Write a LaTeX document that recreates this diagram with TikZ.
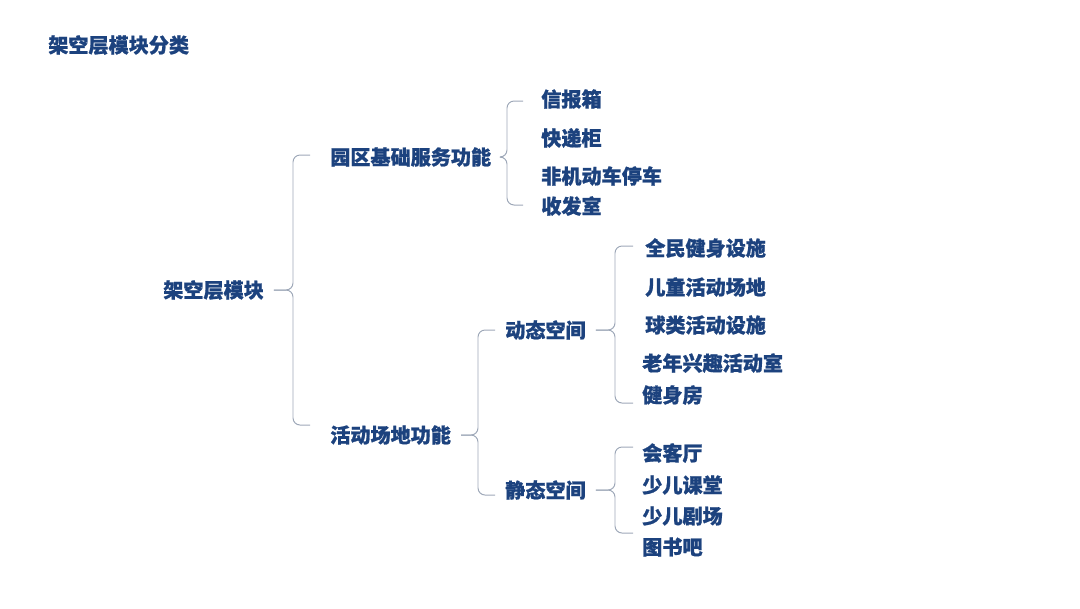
\documentclass[tikz,border=0pt]{standalone}
\usepackage{fontspec}
\setmainfont{Noto Sans CJK SC}[BoldFeatures={FakeBold=1}]
\usetikzlibrary{positioning, calc}
\definecolor{itemblue}{RGB}{28,66,126}
\definecolor{bracegray}{RGB}{158,168,184}
\tikzset{
  item/.style={
    anchor=west, inner sep=0pt,
    font=\bfseries\fontsize{14.3}{16}\selectfont, text=itemblue
  },
  braceline/.style={draw=bracegray, line width=0.7pt, rounded corners=5pt}
}
% parent, spine x, top y, bottom y, hook x
\newcommand{\branch}[5]{%
  \draw[braceline] ({#5},{#3}) -- ({#2},{#3}) -- ({#2},0 |- #1.east) -- ([xshift=7pt]#1.east);
  \draw[braceline] ({#5},{#4}) -- ({#2},{#4}) -- ({#2},0 |- #1.east) -- ([xshift=7pt]#1.east);
}

\begin{document}
\begin{tikzpicture}[x=0.025cm, y=-0.025cm]
\useasboundingbox (0,0) rectangle (1080,608);

% ── Title ───────────────────────────────────────────────────────────────────
\node[item] (title) at (48,45) {架空层模块分类};

% ── Levels 1 and 2 ──────────────────────────────────────────────────────────
\node[item] (root) at (163,290) {架空层模块};
\node[item] (base) at (330,157) {园区基础服务功能};
\node[item] (act)  at (330,435) {活动场地功能};

% ── Basic services ──────────────────────────────────────────────────────────
\node[item] (mail)    at (541,99)  {信报箱};
\node[item] (express) at (541,138) {快递柜};
\node[item] (bike)    at (541,176) {非机动车停车};
\node[item] (post)    at (541,206) {收发室};

% ── Activity spaces ─────────────────────────────────────────────────────────
\node[item] (dyn)  at (505,330) {动态空间};
\node[item] (stat) at (505,490) {静态空间};

\node[item] (fitness) at (645,248) {全民健身设施};
\node[item] (kids)    at (645,287) {儿童活动场地};
\node[item] (ball)    at (645,325) {球类活动设施};
\node[item] (elder)   at (642,363) {老年兴趣活动室};
\node[item] (gym)     at (642,395) {健身房};

\node[item] (guest)   at (642,453) {会客厅};
\node[item] (lesson)  at (642,485) {少儿课堂};
\node[item] (theatre) at (642,516) {少儿剧场};
\node[item] (books)   at (642,547) {图书吧};

% ── Braces ──────────────────────────────────────────────────────────────────
\branch{root}{293}{155}{425}{310}
\branch{base}{507}{101}{205}{523}
\branch{act}{478}{330}{495}{495}
\branch{dyn}{615}{246}{403}{633}
\branch{stat}{615}{447}{533}{633}

\end{tikzpicture}
\end{document}
